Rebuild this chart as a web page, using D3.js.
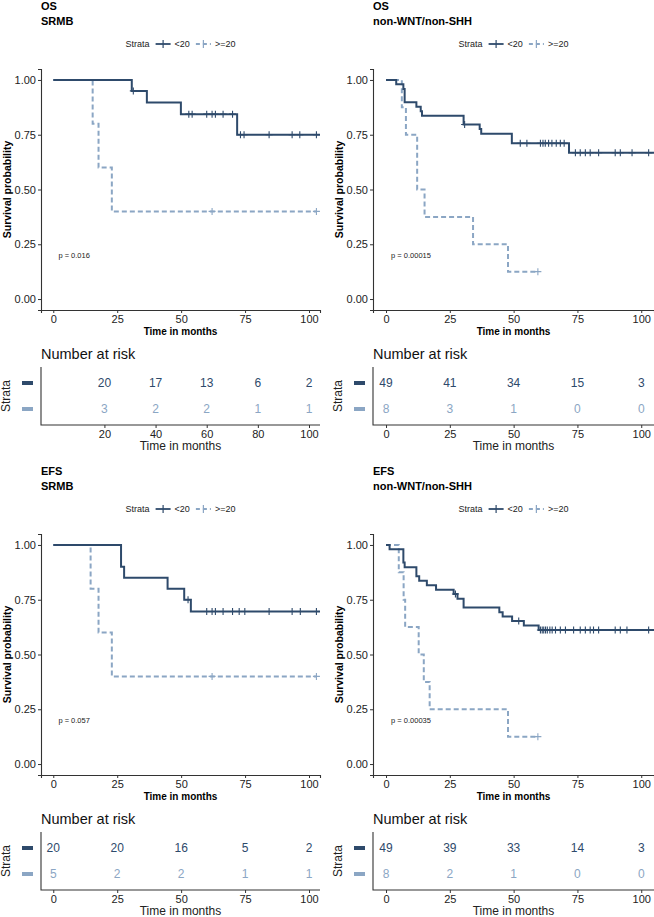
<!DOCTYPE html>
<html><head><meta charset="utf-8">
<script src="https://cdn.jsdelivr.net/npm/d3@7"></script>
<style>body{margin:0;background:#fff}text{font-family:"Liberation Sans",Arial,sans-serif}</style>
</head><body><svg id="c" width="654" height="917"></svg>
<script>
// ---------- DATA ----------
const endpoints = ["OS", "OS", "EFS", "EFS"];
const cohorts = ["SRMB", "non-WNT/non-SHH", "SRMB", "non-WNT/non-SHH"];
const strata = ["<20", ">=20"];
const pValues = ["p = 0.016", "p = 0.00015", "p = 0.057", "p = 0.00035"];
const survTicks = [0, 0.25, 0.5, 0.75, 1];
const timeTicks = [0, 25, 50, 75, 100];
const riskTimesOSSRMB = [20, 40, 60, 80, 100];
const riskTimes = [0, 25, 50, 75, 100];

// numbers at risk
const riskOSSRMB_lt20 = [20, 17, 13, 6, 2];
const riskOSSRMB_ge20 = [3, 2, 2, 1, 1];
const riskOSNWNS_lt20 = [49, 41, 34, 15, 3];
const riskOSNWNS_ge20 = [8, 3, 1, 0, 0];
const riskEFSSRMB_lt20 = [20, 20, 16, 5, 2];
const riskEFSSRMB_ge20 = [5, 2, 2, 1, 1];
const riskEFSNWNS_lt20 = [49, 39, 33, 14, 3];
const riskEFSNWNS_ge20 = [8, 2, 1, 0, 0];

// KM step curves: [time, survival after step]
const kmOSSRMB_lt20 = [[0,1],[30.7,0.95],[36.6,0.897],[49.9,0.844],[71.9,0.75],[104.3,0.75]];
const cenOSSRMB_lt20 = [[31.3,0.95],[53,0.844],[54.3,0.844],[60,0.844],[62.1,0.844],[63.4,0.844],[66.4,0.844],[70.1,0.844],[73.2,0.75],[74.6,0.75],[84.4,0.75],[93.4,0.75],[96.4,0.75],[102.9,0.75]];
const kmOSSRMB_ge20 = [[0,1],[15.4,0.8],[17.7,0.6],[22.9,0.4],[102.9,0.4]];
const cenOSSRMB_ge20 = [[62.1,0.4],[102.9,0.4]];

const kmOSNWNS_lt20 = [[0,1],[4.0,0.98],[6.8,0.959],[7.3,0.898],[11.9,0.878],[13.6,0.857],[14.1,0.837],[30.4,0.797],[36.7,0.776],[37.3,0.755],[49.3,0.711],[71.7,0.668],[105,0.668]];
const cenOSNWNS_lt20 = [[30.8,0.797],[52.6,0.711],[55.2,0.711],[60.5,0.711],[61.5,0.711],[62.4,0.711],[63.7,0.711],[65,0.711],[66.7,0.711],[68.3,0.711],[69.8,0.711],[74.2,0.668],[76.1,0.668],[78.1,0.668],[80,0.668],[83.3,0.668],[89.8,0.668],[91.8,0.668],[96.4,0.668],[102.9,0.668]];
const kmOSNWNS_ge20 = [[0,1],[6.2,0.875],[7.8,0.75],[12.2,0.5],[15.1,0.375],[34.1,0.25],[47.8,0.125],[59.5,0.125]];
const cenOSNWNS_ge20 = [[59.5,0.125]];

const kmEFSSRMB_lt20 = [[0,1],[26.5,0.9],[27.7,0.85],[44.7,0.8],[51.2,0.75],[53.8,0.696],[104.3,0.696]];
const cenEFSSRMB_lt20 = [[52.7,0.75],[60,0.696],[62.1,0.696],[63.4,0.696],[66.4,0.696],[70.1,0.696],[72.7,0.696],[74.9,0.696],[84.4,0.696],[93.4,0.696],[96.6,0.696],[102.9,0.696]];
const kmEFSSRMB_ge20 = [[0,1],[14.6,0.8],[17.7,0.6],[22.9,0.4],[102.9,0.4]];
const cenEFSSRMB_ge20 = [[62.1,0.4],[102.9,0.4]];

const kmEFSNWNS_lt20 = [[0,1],[1.4,0.98],[6.8,0.92],[7.3,0.898],[11.9,0.857],[13.0,0.837],[16.0,0.816],[19.6,0.796],[26.5,0.776],[28.0,0.755],[30.4,0.714],[44.4,0.693],[45.7,0.673],[49.4,0.653],[54,0.632],[59.8,0.612],[105,0.612]];
const cenEFSNWNS_lt20 = [[27.2,0.776],[52,0.653],[60.5,0.612],[61.2,0.612],[61.8,0.612],[62.5,0.612],[63.2,0.612],[64.2,0.612],[65.1,0.612],[66.4,0.612],[68.3,0.612],[70.3,0.612],[73.5,0.612],[76.1,0.612],[78.1,0.612],[80,0.612],[81.3,0.612],[83.3,0.612],[89.8,0.612],[91.8,0.612],[94.4,0.612],[102.9,0.612]];
const kmEFSNWNS_ge20 = [[0,1],[5.0,0.875],[6.9,0.75],[7.5,0.625],[12.8,0.5],[14.8,0.375],[17.1,0.25],[47.8,0.125],[59.5,0.125]];
const cenEFSNWNS_ge20 = [[59.5,0.125]];

// ---------- DRAW ----------
const colors = ["#2E4A6B", "#8BA6C4"];
const svg = d3.select("#c");
svg.append("rect").attr("width",654).attr("height",917).attr("fill","#fff");

const panels = [
  {km:[kmOSSRMB_lt20,kmOSSRMB_ge20], cen:[cenOSSRMB_lt20,cenOSSRMB_ge20], risk:[riskOSSRMB_lt20,riskOSSRMB_ge20], rt:riskTimesOSSRMB, col:0, row:0},
  {km:[kmOSNWNS_lt20,kmOSNWNS_ge20], cen:[cenOSNWNS_lt20,cenOSNWNS_ge20], risk:[riskOSNWNS_lt20,riskOSNWNS_ge20], rt:riskTimes, col:1, row:0},
  {km:[kmEFSSRMB_lt20,kmEFSSRMB_ge20], cen:[cenEFSSRMB_lt20,cenEFSSRMB_ge20], risk:[riskEFSSRMB_lt20,riskEFSSRMB_ge20], rt:riskTimes, col:0, row:1},
  {km:[kmEFSNWNS_lt20,kmEFSNWNS_ge20], cen:[cenEFSNWNS_lt20,cenEFSNWNS_ge20], risk:[riskEFSNWNS_lt20,riskEFSNWNS_ge20], rt:riskTimes, col:1, row:1}
];
const axisCol = "#333";

panels.forEach((p, i) => {
  const L = p.col === 0 ? 41 : 373;
  const R = p.col === 0 ? 320 : 654;
  const dom = p.col === 0 ? [-4.8, 104.3] : [-5.1, 105];
  const oy = p.row * 465;
  const x = d3.scaleLinear().domain(dom).range([L, R]);
  const y = d3.scaleLinear().domain([-0.05, 1.05]).range([310 + oy, 69 + oy]);
  const g = svg.append("g");

  // titles
  g.append("text").attr("x", L).attr("y", 9.5 + oy).attr("font-size", 11).attr("font-weight", "bold").text(endpoints[i]);
  g.append("text").attr("x", L).attr("y", 24.5 + oy).attr("font-size", 11).attr("font-weight", "bold").text(cohorts[i]);

  // legend
  const lg = g.append("g");
  let lx = 0;
  const lt = lg.append("text").attr("x", 0).attr("y", 44 + oy).attr("dy", "0.35em").attr("font-size", 9).attr("fill", "#222").text("Strata");
  lx = lt.node().getComputedTextLength() + 6;
  strata.forEach((s, k) => {
    lg.append("line").attr("x1", lx).attr("x2", lx + 15).attr("y1", 44 + oy).attr("y2", 44 + oy)
      .attr("stroke", colors[k]).attr("stroke-width", 1.8).attr("stroke-dasharray", k ? "4,3" : null);
    lg.append("path").attr("d", `M${lx+7.5},${40+oy}V${48+oy}`).attr("stroke", colors[k]).attr("stroke-width", 1.2);
    const t = lg.append("text").attr("x", lx + 19).attr("y", 44 + oy).attr("dy", "0.35em").attr("font-size", 9).attr("fill", "#222").text(s);
    lx += 19 + t.node().getComputedTextLength() + 6;
  });
  const lw = lx - 6;
  lg.attr("transform", `translate(${(L + R) / 2 - lw / 2},0)`);

  // axes
  const ya = g.append("g").attr("transform", `translate(${L},0)`)
    .call(d3.axisLeft(y).tickValues(survTicks).tickFormat(d3.format(".2f")).tickSizeOuter(0).tickSize(3).tickPadding(2));
  const xa = g.append("g").attr("transform", `translate(0,${310 + oy})`)
    .call(d3.axisBottom(x).tickValues(timeTicks).tickSizeOuter(0).tickSize(3).tickPadding(2));
  [ya, xa].forEach(a => {
    a.select(".domain").attr("stroke", axisCol).attr("stroke-width", 1.1);
    a.selectAll(".tick line").attr("stroke", axisCol);
    a.selectAll("text").attr("font-size", 11).attr("fill", "#222").style("font-family", '"Liberation Sans",Arial,sans-serif');
  });
  g.append("text").attr("transform", `translate(${L - 34},${(y(0) + y(1)) / 2}) rotate(-90)`).attr("text-anchor", "middle")
    .attr("dy", "0.35em").attr("font-size", 10.5).attr("font-weight", "bold").text("Survival probability");
  g.append("text").attr("x", (L + R) / 2).attr("y", 331 + oy).attr("dy", "0.35em").attr("text-anchor", "middle")
    .attr("font-size", 10).attr("font-weight", "bold").text("Time in months");

  // curves
  const line = d3.line().x(d => x(d[0])).y(d => y(d[1])).curve(d3.curveStepAfter);
  [1, 0].forEach(k => {
    g.append("path").attr("d", line(p.km[k])).attr("fill", "none").attr("stroke", colors[k])
      .attr("stroke-width", 2).attr("stroke-dasharray", k ? "5,3" : null);
    g.selectAll(null).data(p.cen[k]).enter().append("path")
      .attr("d", d => `M${x(d[0]) - 3.5},${y(d[1])}H${x(d[0]) + 3.5}M${x(d[0])},${y(d[1]) - 3.5}V${y(d[1]) + 3.5}`)
      .attr("stroke", colors[k]).attr("stroke-width", 1.1);
  });

  // p-value
  g.append("text").attr("x", x(2)).attr("y", y(0.2)).attr("dy", "0.35em").attr("font-size", 7.5).attr("fill", "#222").text(pValues[i]);

  // risk table
  const rows = [383 + oy, 409 + oy];
  g.append("text").attr("x", L).attr("y", 359 + oy).attr("font-size", 14.5).attr("fill", "#111").text("Number at risk");
  g.append("path").attr("d", `M${L},${367 + oy}V${425 + oy}H${R}`).attr("fill", "none").attr("stroke", axisCol).attr("stroke-width", 1.1);
  const ra = g.append("g").attr("transform", `translate(0,${425 + oy})`)
    .call(d3.axisBottom(x).tickValues(p.rt).tickSizeOuter(0).tickSize(3).tickPadding(2));
  ra.select(".domain").remove();
  ra.selectAll(".tick line").attr("stroke", axisCol);
  ra.selectAll("text").attr("font-size", 11).attr("fill", "#222").style("font-family", '"Liberation Sans",Arial,sans-serif');
  g.append("text").attr("x", (L + R) / 2).attr("y", 446 + oy).attr("dy", "0.35em").attr("text-anchor", "middle")
    .attr("font-size", 12).attr("fill", "#222").text("Time in months");
  g.append("text").attr("transform", `translate(${L - 35},${(rows[0] + rows[1]) / 2}) rotate(-90)`).attr("text-anchor", "middle")
    .attr("dy", "0.35em").attr("font-size", 12).attr("fill", "#222").text("Strata");
  [0, 1].forEach(k => {
    g.append("rect").attr("x", L - 19).attr("y", rows[k] - 2).attr("width", 11).attr("height", 4).attr("fill", colors[k]);
    g.selectAll(null).data(p.risk[k]).enter().append("text")
      .attr("x", (d, j) => x(p.rt[j])).attr("y", rows[k]).attr("dy", "0.35em").attr("text-anchor", "middle")
      .attr("font-size", 12).attr("fill", colors[k]).text(d => d);
  });
});
</script></body></html>
